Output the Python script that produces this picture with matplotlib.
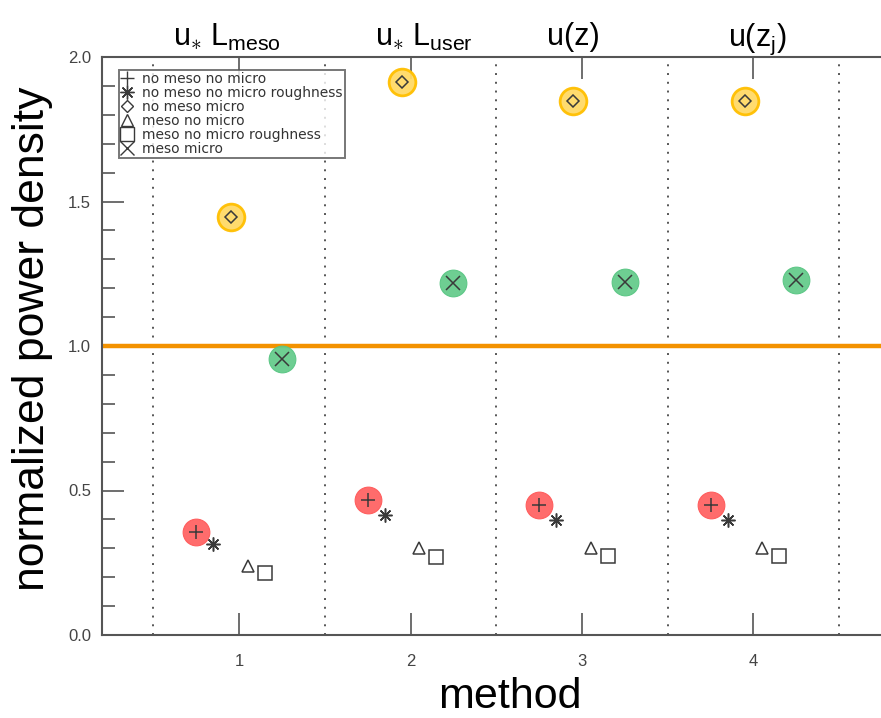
import matplotlib
matplotlib.use("Agg")
import matplotlib.pyplot as plt
from matplotlib.lines import Line2D

plt.rcParams['font.family'] = ['Liberation Sans', 'DejaVu Sans']
plt.rcParams['mathtext.fontset'] = 'custom'
plt.rcParams['mathtext.rm'] = 'Liberation Sans'
plt.rcParams['mathtext.it'] = 'Liberation Sans'

# values
methods = [1, 2, 3, 4]
method_titles = [r"u$_{\ast}$ L$_{\rm meso}$", r"u$_{\ast}$ L$_{\rm user}$",
                 "u(z)", r"u(z$_{\rm j}$)"]
series_labels = ["no meso no micro", "no meso no micro roughness", "no meso micro",
                 "meso no micro", "meso no micro roughness", "meso micro"]
no_meso_no_micro = [0.357, 0.467, 0.450, 0.450]
no_meso_no_micro_rough = [0.315, 0.415, 0.398, 0.398]
no_meso_micro = [1.446, 1.913, 1.848, 1.848]
meso_no_micro = [0.239, 0.301, 0.301, 0.301]
meso_no_micro_rough = [0.214, 0.270, 0.273, 0.273]
meso_micro = [0.955, 1.218, 1.221, 1.228]
reference_level = 1.0

series = [no_meso_no_micro, no_meso_no_micro_rough, no_meso_micro,
          meso_no_micro, meso_no_micro_rough, meso_micro]
offsets = [-0.25, -0.15, -0.05, 0.05, 0.15, 0.25]
markers = ['+', (8, 2, 0), 'D', '^', 's', 'x']
msizes = [10, 10, 6, 9, 10, 10]
# highlighted series: index -> (face, edge)
highlight = {0: ('#ff6464', '#ff5a5a'), 2: ('#ffd966', '#ffbf00'), 5: ('#66cc8c', '#5ac684')}

W, H = 881, 718
fig = plt.figure(figsize=(W / 100, H / 100), dpi=100)
ax = fig.add_axes([102 / W, 83 / H, 780 / W, 578 / H])

gray = '#555555'
mk = '#3a3a3a'

ax.axhline(reference_level, color='#f39200', lw=3.2, zorder=2)
for xv in [0.5, 1.5, 2.5, 3.5, 4.5]:
    ax.axvline(xv, color='#555555', lw=1.4, ls=(0, (1, 3.5)), zorder=1)

for i, vals in enumerate(series):
    xs = [m + offsets[i] for m in methods]
    if i in highlight:
        face, edge = highlight[i]
        ax.scatter(xs, vals, s=370, color=face, edgecolors=edge,
                   linewidths=2.0 if i == 2 else 0.8, alpha=0.95, zorder=3)
    ax.plot(xs, vals, linestyle='none', marker=markers[i], ms=msizes[i],
            mfc='none', mec=mk, mew=1.1, zorder=4)

ax.set_xlim(0.2, 4.75)
ax.set_ylim(0, 2.0)
ax.set_xticks(methods)
ax.set_yticks([0.0, 0.5, 1.0, 1.5, 2.0])
ax.set_yticks([i / 10 for i in range(21)], minor=True)
ax.set_yticklabels(['0.0', '0.5', '1.0', '1.5', '2.0'])
ax.tick_params(axis='both', which='major', direction='in', length=16, width=1.2,
               color=gray, labelcolor='#444444', labelsize=12, pad=8, top=True)
ax.tick_params(axis='y', which='minor', direction='in', length=9, width=1.2, color=gray)
ax.tick_params(axis='x', pad=14)
for side in ['left', 'bottom', 'top']:
    ax.spines[side].set_color(gray)
    ax.spines[side].set_linewidth(1.5)
ax.spines['right'].set_visible(False)

fig.text(510 / W, 10 / H, 'method', fontsize=31, ha='center', va='baseline')
fig.text(12 / W, 1 - 339 / H, 'normalized power density', fontsize=32,
         rotation=90, ha='left', va='center')

title_x = [0.93, 2.08, 2.95, 4.02]
for tx, tt in zip(title_x, method_titles):
    ax.text(tx, 1.02, tt, transform=ax.get_xaxis_transform(), ha='center',
            va='baseline', fontsize=22)

handles = [Line2D([], [], linestyle='none', marker=markers[i], ms=msizes[i],
                  mfc='none', mec=mk, mew=1.0) for i in range(6)]
leg = ax.legend(handles, series_labels, loc='upper left', bbox_to_anchor=(0.022, 0.978),
                borderaxespad=0, frameon=True, fancybox=False, handlelength=0.8,
                handletextpad=0.7, labelspacing=0.0, borderpad=0.15,
                prop={'family': 'DejaVu Sans', 'size': 10})
leg.get_frame().set_edgecolor('#555555')
leg.get_frame().set_linewidth(1.4)
for t in leg.get_texts():
    t.set_color('#333333')

fig.savefig('out.png', dpi=100)
